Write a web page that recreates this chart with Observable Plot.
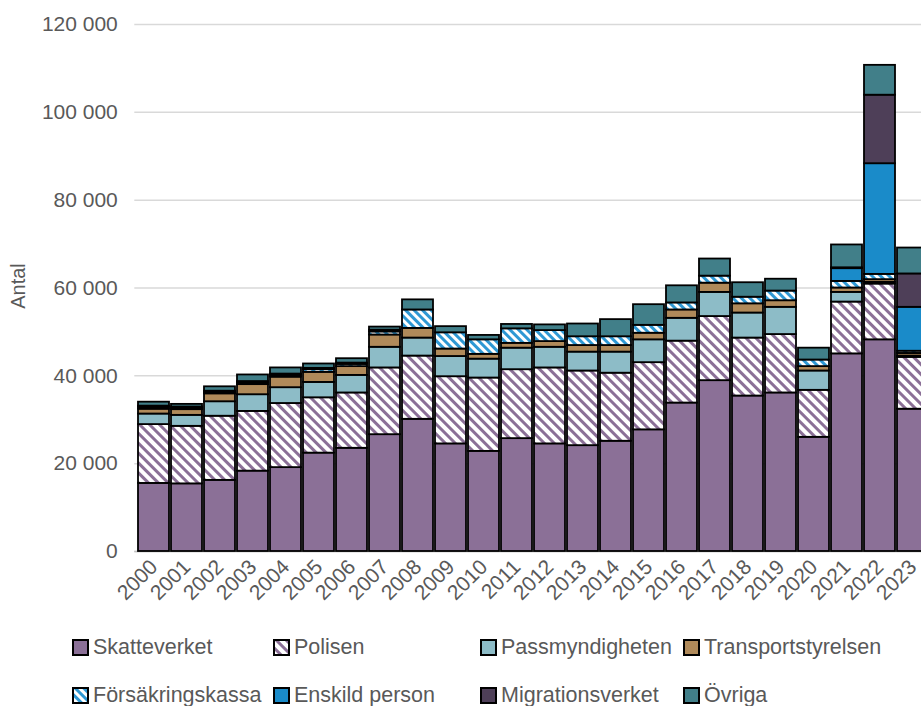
<!DOCTYPE html>
<html><head><meta charset="utf-8">
<script src="https://cdn.jsdelivr.net/npm/d3@7"></script>
<script src="https://cdn.jsdelivr.net/npm/@observablehq/plot@0.6"></script>
<style>
html,body{margin:0;padding:0;background:#fff;overflow:hidden;}
body{font-family:"Liberation Sans",Arial,sans-serif;}
#wrap{position:relative;width:921px;height:706px;overflow:hidden;}
#chart{position:absolute;left:0;top:0;width:950px;}
#chart svg{max-width:none !important;}
.leg{position:absolute;display:flex;align-items:center;font-size:21.5px;color:#595959;white-space:nowrap;height:20px;}
.leg svg{margin-right:4px;flex:none;}
#ylab{position:absolute;left:18px;top:286px;transform:translate(-50%,-50%) rotate(-90deg);font-size:20px;color:#595959;white-space:nowrap;}
</style></head><body>
<svg width="0" height="0" style="position:absolute;left:0;top:0">
  <defs>
    <pattern id="pPol" patternUnits="userSpaceOnUse" width="7" height="7" patternTransform="rotate(-45)">
      <rect width="7" height="7" fill="#ffffff"/>
      <rect width="3" height="7" fill="#8b7097"/>
    </pattern>
    <pattern id="pFor" patternUnits="userSpaceOnUse" width="6" height="6" patternTransform="rotate(-45)">
      <rect width="6" height="6" fill="#ffffff"/>
      <rect width="3" height="6" fill="#2e98d4"/>
    </pattern>
  </defs>
</svg>
<div id="wrap">
  <div id="chart"></div>
  <div id="ylab">Antal</div>
  <div id="legend"></div>
</div>
<script>
const years = ["2000","2001","2002","2003","2004","2005","2006","2007","2008","2009","2010","2011","2012","2013","2014","2015","2016","2017","2018","2019","2020","2021","2022","2023"];
const seriesNames = ["Skatteverket","Polisen","Passmyndigheten","Transportstyrelsen","Försäkringskassa","Enskild person","Migrationsverket","Övriga"];
const skatteverket =       [15500,15400,16200,18300,19100,22400,23500,26600,30100,24500,22800,25700,24500,24100,25100,27700,33800,38900,35400,36100,26000,45000,48200,32400];
const polisen =            [13400,13100,14600,13600,14600,12600,12600,15200,14400,15300,16700,15700,17300,17000,15500,15300,14100,14600,13200,13300,10700,11800,12700,11800];
const passmyndigheten =    [2400,2500,3300,3800,3600,3500,4000,4700,4100,4600,4300,4900,4700,4300,4800,5200,5200,5500,5700,6200,4400,2200,400,300];
const transportstyrelsen = [1100,1300,1800,2300,2400,2300,2000,2800,2200,1700,1100,1100,1300,1500,1500,1500,1900,2100,2100,1500,1000,1000,600,600];
const forsakringskassa =   [400,300,300,400,400,600,500,700,4200,3700,3300,3300,2500,2000,2000,1800,1600,1600,1500,2200,1500,1500,1200,500];
const enskildPerson =      [0,0,0,0,0,0,0,0,0,0,0,0,0,0,0,0,0,0,0,0,0,2900,25200,10000];
const migrationsverket =   [300,300,300,300,300,300,300,400,0,0,0,0,0,0,0,0,0,0,0,0,0,200,15600,7600];
const ovriga =             [900,600,1000,1500,1400,1000,1000,700,2300,1400,1000,1000,1300,2900,3900,4700,3900,3900,3300,2700,2700,5200,6800,5900];
const yTicks = [0,20000,40000,60000,80000,100000,120000];

const seriesValues = [skatteverket,polisen,passmyndigheten,transportstyrelsen,forsakringskassa,enskildPerson,migrationsverket,ovriga];
const fills = ["#8b7097","url(#pPol)","#8dbcc7","#b08a5a","url(#pFor)","#1a8bc9","#4e3f58","#417f89"];

const data = [];
seriesNames.forEach((s, i) => {
  years.forEach((y, j) => {
    const v = seriesValues[i][j];
    if (v > 0) data.push({year: y, series: s, value: v});
  });
});

const fmt = d => d3.format(",")(d).replace(/,/g, " ");

const chart = Plot.plot({
  width: 950,
  height: 620,
  marginLeft: 134.3,
  marginRight: 17.7,
  marginTop: 24,
  marginBottom: 69,
  style: {fontFamily: "'Liberation Sans', Arial, sans-serif", fontSize: "21px", color: "#595959", background: "transparent", overflow: "visible", maxWidth: "none"},
  x: {domain: years, padding: 0.05, label: null},
  y: {domain: [0, 120000], label: null},
  color: {domain: seriesNames, range: fills},
  marks: [
    Plot.gridY(yTicks, {stroke: "#d9d9d9", strokeOpacity: 1, strokeWidth: 1.5}),
    Plot.ruleY([0], {stroke: "#bfbfbf", strokeWidth: 1.5}),
    Plot.axisY(yTicks, {tickSize: 0, tickPadding: 17, tickFormat: fmt, label: null, fill: "#595959", fontSize: 21}),
    Plot.axisX({tickSize: 0, tickRotate: -45, tickPadding: 12, label: null, fill: "#595959", fontSize: 21}),
    Plot.barY(data, {x: "year", y: "value", fill: "series", stroke: "#000", strokeWidth: 1.8})
  ]
});
chart.style.maxWidth = "none";
chart.style.width = "950px";
chart.style.height = "620px";
document.getElementById("chart").appendChild(chart);

// legend
const legPos = [[72,647],[273,647],[480,647],[683,647],[72,695],[273,695],[480,695],[683,695]];
const legend = document.getElementById("legend");
seriesNames.forEach((s, i) => {
  const div = document.createElement("div");
  div.className = "leg";
  div.style.left = legPos[i][0] + "px";
  div.style.top = (legPos[i][1] - 10) + "px";
  div.innerHTML = `<svg width="17" height="17"><rect x="1" y="1" width="15" height="15" fill="${fills[i]}" stroke="#000" stroke-width="2"/></svg><span>${s}</span>`;
  legend.appendChild(div);
});
</script>
</body></html>
